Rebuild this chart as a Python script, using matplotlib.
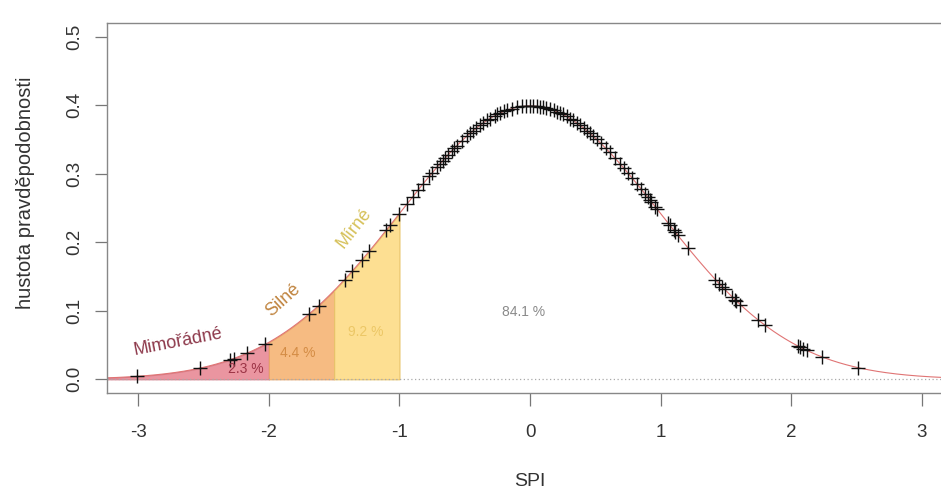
import numpy as np
import matplotlib
matplotlib.use('Agg')
import matplotlib.pyplot as plt

plt.rcParams['font.family'] = ['Liberation Sans', 'DejaVu Sans']
plt.rcParams['axes.unicode_minus'] = False

spi_points = [-3.01, -2.53, -2.30, -2.27, -2.17, -2.03, -1.69, -1.62,
              -1.42, -1.36, -1.29, -1.23, -1.10, -1.07, -1.00, -0.94,
              -0.90, -0.86, -0.82, -0.77, -0.75, -0.71, -0.69, -0.67,
              -0.65, -0.63, -0.60, -0.58, -0.56, -0.52, -0.48, -0.46,
              -0.44, -0.41, -0.38, -0.36, -0.33, -0.31, -0.27, -0.25,
              -0.23, -0.20, -0.18, -0.14, -0.10, -0.06, -0.03, 0.00,
              0.02, 0.05, 0.08, 0.10, 0.12, 0.15, 0.18, 0.21, 0.23,
              0.25, 0.28, 0.31, 0.33, 0.36, 0.38, 0.41, 0.44, 0.46,
              0.48, 0.51, 0.54, 0.58, 0.61, 0.65, 0.69, 0.72, 0.75,
              0.78, 0.82, 0.85, 0.88, 0.90, 0.92, 0.93, 0.96, 0.97,
              1.06, 1.07, 1.10, 1.11, 1.13, 1.21, 1.42, 1.45, 1.47,
              1.49, 1.55, 1.57, 1.58, 1.61, 1.75, 1.80, 2.05, 2.07,
              2.09, 2.12, 2.24, 2.51]

# drought classes: limits, colours, labels
class_limits = [(-3.24, -2.0), (-2.0, -1.5), (-1.5, -1.0)]
class_fill = ['#ea95a0', '#f6bb82', '#fddf92']
class_edge = ['#d77c88', '#e8a467', '#e8c46a']
class_names = ['Mimořádné', 'Silné', 'Mírné']
class_name_col = ['#8e3a4c', '#c0843f', '#d6c15a']
class_pct = ['2.3 %', '4.4 %', '9.2 %']
class_pct_col = ['#9c3446', '#d48c45', '#ecc766']
rest_pct = '84.1 %'


def dnorm(x):
    return np.exp(-0.5 * np.asarray(x) ** 2) / np.sqrt(2 * np.pi)


fig = plt.figure(figsize=(9.41, 4.90), dpi=100)
ax = fig.add_axes([107 / 941, 97 / 490, 846 / 941, 370 / 490])

# shaded classes
for (lo, hi), fc, ec in zip(class_limits, class_fill, class_edge):
    xs = np.linspace(lo, hi, 200)
    ax.fill_between(xs, 0, dnorm(xs), facecolor=fc, edgecolor=ec, lw=0.8)

# density curve
xx = np.linspace(-3.3, 3.3, 600)
ax.plot(xx, dnorm(xx), color='#e07474', lw=0.8)
ax.axhline(0, color='#aaaaaa', lw=0.9, ls=(0, (1, 2)))

# observations
ax.plot(spi_points, dnorm(spi_points), ls='none', marker='+', ms=10,
        mew=1.0, color='#111111')

# labels
name_pos = [(-2.70, 0.054, 11), (-1.89, 0.115, 42), (-1.35, 0.220, 52)]
for (x, y, r), t, c in zip(name_pos, class_names, class_name_col):
    ax.text(x, y, t, rotation=r, color=c, fontsize=13,
            ha='center', va='center', rotation_mode='anchor')
pct_pos = [(-2.18, 0.0145), (-1.78, 0.039), (-1.26, 0.069)]
for (x, y), t, c in zip(pct_pos, class_pct, class_pct_col):
    ax.text(x, y, t, color=c, fontsize=10, ha='center', va='center')
ax.text(-0.05, 0.098, rest_pct, color='#8a8a8a', fontsize=10,
        ha='center', va='center')

ax.set_xlim(-3.24, 3.24)
ax.set_ylim(-0.02, 0.52)
ax.set_xticks([-3, -2, -1, 0, 1, 2, 3])
ax.set_yticks([0.0, 0.1, 0.2, 0.3, 0.4, 0.5])
ax.set_yticklabels(['0.0', '0.1', '0.2', '0.3', '0.4', '0.5'],
                   rotation=90, va='center')
ax.tick_params(axis='x', length=9, width=0.9, color='#777777',
               labelcolor='#333333', labelsize=13.5, pad=13)
ax.tick_params(axis='y', length=9, width=0.9, color='#777777',
               labelcolor='#333333', labelsize=13.5, pad=8)
for s in ax.spines.values():
    s.set_color('#888888')
    s.set_linewidth(1.0)

ax.set_xlabel('SPI', fontsize=14, color='#333333')
ax.xaxis.set_label_coords(0.5, -0.215)
ax.set_ylabel('hustota pravděpodobnosti', fontsize=14.5, color='#333333')
ax.yaxis.set_label_coords(-0.085, 0.54)

fig.savefig('out.png', dpi=100)
